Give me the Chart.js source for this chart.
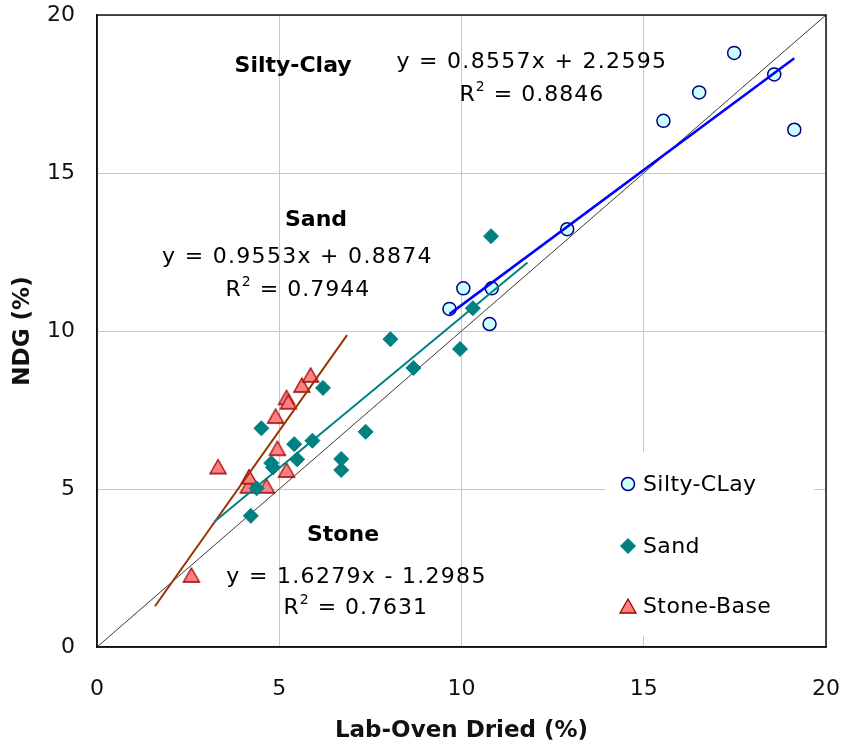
<!DOCTYPE html>
<html>
<head>
<meta charset="utf-8">
<script src="https://cdn.jsdelivr.net/npm/chart.js@4.4.1/dist/chart.umd.min.js"></script>
<style>
  html, body { margin: 0; padding: 0; background: #ffffff; }
  canvas { display: block; }
</style>
</head>
<body>
<canvas id="chart" width="845" height="746"></canvas>
<script>
// ---- measurements: lab oven-dried moisture (%) vs NDG moisture (%) ----
const seriesNames = ['Silty-CLay', 'Sand', 'Stone-Base'];
const groupTitles = ['Silty-Clay', 'Sand', 'Stone'];

const siltyClayX = [9.67, 10.05, 10.77, 10.83, 12.90, 15.54, 16.52, 17.48, 18.58, 19.13];
const siltyClayY = [10.70, 11.35, 10.22, 11.35, 13.22, 16.65, 17.55, 18.80, 18.12, 16.37];

const sandX = [4.22, 4.38, 4.51, 4.78, 4.83, 5.41, 5.49, 5.91, 6.20, 6.70, 6.70, 7.37, 8.05, 8.68, 9.96, 10.31, 10.81];
const sandY = [4.15, 5.02, 6.92, 5.82, 5.68, 6.42, 5.94, 6.53, 8.20, 5.95, 5.60, 6.81, 9.74, 8.83, 9.43, 10.72, 13.00];

const stoneX = [2.59, 3.32, 4.15, 4.17, 4.65, 4.90, 4.95, 5.20, 5.25, 5.20, 5.62, 5.86];
const stoneY = [2.28, 5.71, 5.10, 5.39, 5.10, 7.31, 6.29, 7.90, 7.76, 5.60, 8.29, 8.61];

// linear fits per soil group (slope, intercept, R²) and the x-span each fit line covers
const fitSlope = [0.8557, 0.9553, 1.6279];
const fitIntercept = [2.2595, 0.8874, -1.2985];
const fitR2 = [0.8846, 0.7944, 0.7631];
const fitFrom = [9.67, 3.22, 1.59];
const fitTo = [19.13, 11.81, 6.86];

// shared axis ticks (both axes run 0..20)
const tickValues = [0, 5, 10, 15, 20];

// ---- styles ----
const FONT = 'DejaVu Sans';
const markerStyles = [
  { pointStyle: 'circle',   radius: 6.5, fill: '#ccffff', stroke: '#000080', width: 1.5 },
  { pointStyle: 'rectRot',  radius: 7.5, fill: '#008080', stroke: '#008080', width: 1 },
  { pointStyle: 'triangle', radius: 8,   fill: '#ff8080', stroke: '#9a0000', width: 1.3 }
];
const fitColors = ['#0000ff', '#008080', '#993300'];
const fitWidths = [2.5, 2, 2];

// label anchors in axis units: [title, equation, R²] for each group
const labelAnchors = [
  [{ x: 5.38, y: 18.39 }, { x: 11.93, y: 18.51 }, { x: 11.93, y: 17.47 }],
  [{ x: 6.01, y: 13.51 }, { x: 5.50, y: 12.34 }, { x: 5.51, y: 11.30 }],
  [{ x: 6.75, y: 3.54 },  { x: 7.12, y: 2.22 },  { x: 7.10, y: 1.23 }]
];

// legend panel (canvas pixels)
const legendPanel = { left: 605, top: 452, right: 814, bottom: 636 };
const legendRows = [484, 546, 606];
const legendMarkerX = 628;
const legendTextX = 643;

function zip(xs, ys) { return xs.map((x, i) => ({ x: x, y: ys[i] })); }
function fitLine(i) {
  return [
    { x: fitFrom[i], y: fitSlope[i] * fitFrom[i] + fitIntercept[i] },
    { x: fitTo[i],   y: fitSlope[i] * fitTo[i]   + fitIntercept[i] }
  ];
}
function equationText(i) {
  const b = fitIntercept[i];
  return 'y = ' + fitSlope[i].toFixed(4) + 'x ' + (b < 0 ? '- ' : '+ ') + Math.abs(b).toFixed(4);
}

// triangle path whose bounding box is centred on (x, y)
function trianglePath(ctx, x, y, half) {
  const h = half * 1.75;
  ctx.moveTo(x, y - h / 2);
  ctx.lineTo(x + half, y + h / 2);
  ctx.lineTo(x - half, y + h / 2);
  ctx.closePath();
}

function makeTriangleSprite(m) {
  const size = Math.ceil(m.radius * 2 + 4);
  const c = document.createElement('canvas');
  c.width = size; c.height = size;
  const g = c.getContext('2d');
  g.beginPath();
  trianglePath(g, size / 2, size / 2, m.radius);
  g.fillStyle = m.fill; g.fill();
  g.lineWidth = m.width; g.strokeStyle = m.stroke; g.stroke();
  return c;
}

const pointSets = [zip(siltyClayX, siltyClayY), zip(sandX, sandY), zip(stoneX, stoneY)];

const datasets = [];
// 1:1 reference line
datasets.push({
  label: '1:1',
  data: [{ x: tickValues[0], y: tickValues[0] }, { x: tickValues[tickValues.length - 1], y: tickValues[tickValues.length - 1] }],
  showLine: true, borderColor: '#3a3a3a', borderWidth: 1, pointRadius: 0, order: 5
});
pointSets.forEach((pts, i) => {
  const m = markerStyles[i];
  const style = m.pointStyle === 'triangle' ? makeTriangleSprite(m) : m.pointStyle;
  datasets.push({
    label: seriesNames[i], data: pts, showLine: false,
    pointStyle: style, pointRadius: m.radius,
    backgroundColor: m.fill, borderColor: m.stroke, borderWidth: m.width,
    pointBackgroundColor: m.fill, pointBorderColor: m.stroke, pointBorderWidth: m.width,
    order: 3
  });
});
fitSlope.forEach((_, i) => {
  datasets.push({
    label: groupTitles[i] + ' fit', data: fitLine(i), showLine: true,
    borderColor: fitColors[i], borderWidth: fitWidths[i], pointRadius: 0, order: 1
  });
});

function drawMarker(ctx, i, x, y) {
  const m = markerStyles[i];
  ctx.save();
  ctx.fillStyle = m.fill; ctx.strokeStyle = m.stroke; ctx.lineWidth = m.width;
  ctx.beginPath();
  if (m.pointStyle === 'circle') {
    ctx.arc(x, y, m.radius, 0, Math.PI * 2);
  } else if (m.pointStyle === 'rectRot') {
    ctx.moveTo(x, y - m.radius); ctx.lineTo(x + m.radius, y);
    ctx.lineTo(x, y + m.radius); ctx.lineTo(x - m.radius, y);
    ctx.closePath();
  } else {
    trianglePath(ctx, x, y, m.radius);
  }
  ctx.fill(); ctx.stroke();
  ctx.restore();
}

function drawR2(ctx, value, cx, cy) {
  const big = '22px "' + FONT + '"';
  const small = '14px "' + FONT + '"';
  const rest = ' = ' + value.toFixed(4);
  ctx.font = big; const wR = ctx.measureText('R').width; const wRest = ctx.measureText(rest).width;
  ctx.font = small; const w2 = ctx.measureText('2').width;
  let x = cx - (wR + w2 + wRest) / 2;
  ctx.textAlign = 'left'; ctx.textBaseline = 'middle';
  ctx.font = big; ctx.fillText('R', x, cy); x += wR;
  ctx.font = small; ctx.fillText('2', x, cy - 8); x += w2;
  ctx.font = big; ctx.fillText(rest, x, cy);
}

const overlay = {
  id: 'overlay',
  beforeDatasetsDraw(chart) {
    const ctx = chart.ctx;
    ctx.save();
    ctx.fillStyle = '#ffffff';
    ctx.fillRect(legendPanel.left, legendPanel.top, legendPanel.right - legendPanel.left, legendPanel.bottom - legendPanel.top);
    ctx.restore();
  },
  afterDatasetsDraw(chart) {
    const { ctx, chartArea: a, scales } = chart;
    ctx.save();
    // plot frame
    ctx.strokeStyle = '#111111'; ctx.lineWidth = 1.5;
    ctx.strokeRect(a.left, a.top, a.right - a.left, a.bottom - a.top);

    // group titles, fit equations and R² values
    ctx.fillStyle = '#000000';
    labelAnchors.forEach((anchors, i) => {
      const px = p => ({ x: scales.x.getPixelForValue(p.x), y: scales.y.getPixelForValue(p.y) });
      const t = px(anchors[0]), e = px(anchors[1]), r = px(anchors[2]);
      ctx.textAlign = 'center'; ctx.textBaseline = 'middle';
      ctx.font = 'bold 22px "' + FONT + '"';
      ctx.letterSpacing = '0px';
      ctx.fillText(groupTitles[i], t.x, t.y);
      ctx.letterSpacing = '1.3px';
      ctx.font = '22px "' + FONT + '"';
      ctx.fillText(equationText(i), e.x, e.y);
      ctx.letterSpacing = '1px';
      drawR2(ctx, fitR2[i], r.x, r.y);
    });

    // legend
    ctx.letterSpacing = '0.4px';
    ctx.font = '22px "' + FONT + '"';
    ctx.textAlign = 'left'; ctx.textBaseline = 'middle';
    seriesNames.forEach((name, i) => {
      drawMarker(ctx, i, legendMarkerX, legendRows[i]);
      ctx.fillStyle = '#000000';
      ctx.fillText(name, legendTextX, legendRows[i] + 1);
    });
    ctx.restore();
  }
};

function axis(titleText, isX) {
  return {
    type: 'linear', min: tickValues[0], max: tickValues[tickValues.length - 1],
    afterBuildTicks(s) { s.ticks = tickValues.map(v => ({ value: v })); },
    afterFit(s) {
      if (isX) s.height = 99; else s.width = 97;
      s.paddingTop = 0; s.paddingBottom = 0; s.paddingLeft = 0; s.paddingRight = 0;
    },
    grid: { color: '#c8c8c8', lineWidth: 1, drawTicks: false },
    border: { color: '#111111', width: 1.5 },
    ticks: {
      padding: isX ? 29 : 22, color: '#111111',
      font: { family: FONT, size: 22 },
      callback: v => String(v)
    },
    title: {
      display: true, text: titleText, color: '#111111',
      font: { family: FONT, size: 23, weight: 'bold' },
      padding: isX ? { top: 0, bottom: 1 } : { top: 9, bottom: 0 }
    }
  };
}

new Chart(document.getElementById('chart'), {
  type: 'scatter',
  data: { datasets: datasets },
  options: {
    responsive: false, animation: false, devicePixelRatio: 1,
    layout: { padding: { top: 15, right: 19, left: 0, bottom: 0 } },
    plugins: { legend: { display: false }, tooltip: { enabled: false } },
    scales: { x: axis('Lab-Oven Dried (%)', true), y: axis('NDG (%)', false) }
  },
  plugins: [overlay]
});
</script>
</body>
</html>
